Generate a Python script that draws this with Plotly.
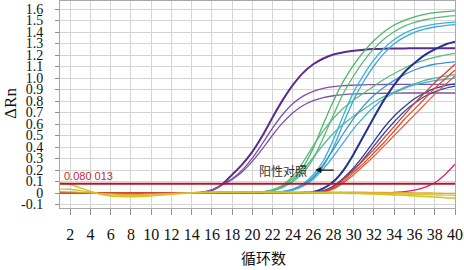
import plotly.graph_objects as go

cycles = list(range(1, 41))

purple_dark = [0] * 14 + [0.005, 0.025, 0.075, 0.16, 0.25, 0.36, 0.50, 0.66, 0.81, 0.94, 1.045, 1.12, 1.17, 1.205, 1.225, 1.238, 1.247, 1.252, 1.255, 1.257, 1.258, 1.259, 1.26, 1.26, 1.26, 1.26]
purple_hi = [0] * 14 + [0.005, 0.025, 0.072, 0.124, 0.20, 0.305, 0.433, 0.566, 0.685, 0.779, 0.843, 0.885, 0.91, 0.925, 0.934, 0.938, 0.941, 0.943, 0.944, 0.945, 0.945, 0.945, 0.945, 0.945, 0.945, 0.945]
purple_lo = [0] * 14 + [0.005, 0.025, 0.07, 0.119, 0.186, 0.278, 0.387, 0.505, 0.612, 0.699, 0.761, 0.803, 0.83, 0.846, 0.856, 0.862, 0.865, 0.867, 0.868, 0.869, 0.87, 0.87, 0.87, 0.87, 0.87, 0.87]
green_1 = [0] * 19 + [0.003, 0.01, 0.025, 0.06, 0.128, 0.226, 0.39, 0.60, 0.80, 0.975, 1.115, 1.23, 1.326, 1.403, 1.461, 1.502, 1.532, 1.553, 1.568, 1.578, 1.585]
green_2 = [0] * 20 + [0.008, 0.02, 0.05, 0.10, 0.176, 0.30, 0.48, 0.68, 0.87, 1.02, 1.15, 1.256, 1.34, 1.403, 1.451, 1.484, 1.507, 1.524, 1.535, 1.543]
cyan_1 = [0] * 21 + [0.005, 0.015, 0.035, 0.08, 0.159, 0.281, 0.465, 0.68, 0.88, 1.03, 1.158, 1.259, 1.335, 1.389, 1.427, 1.451, 1.468, 1.479, 1.487]
cyan_2 = [0] * 21 + [0.004, 0.012, 0.03, 0.07, 0.131, 0.235, 0.398, 0.61, 0.81, 0.972, 1.107, 1.215, 1.298, 1.356, 1.397, 1.425, 1.444, 1.456, 1.465]
green_mid = [0] * 19 + [0.003, 0.01, 0.03, 0.07, 0.15, 0.27, 0.41, 0.54, 0.65, 0.74, 0.81, 0.87, 0.93, 0.99, 1.04, 1.085, 1.125, 1.155, 1.18, 1.20, 1.215]
green_low = [0] * 19 + [0.002, 0.008, 0.022, 0.055, 0.11, 0.20, 0.31, 0.42, 0.52, 0.60, 0.67, 0.73, 0.79, 0.84, 0.88, 0.92, 0.95, 0.98, 1.00, 1.017, 1.03]
cyan_mid = [0] * 21 + [0.003, 0.01, 0.03, 0.07, 0.14, 0.25, 0.38, 0.52, 0.65, 0.76, 0.85, 0.92, 0.98, 1.03, 1.07, 1.10, 1.12, 1.132, 1.14]
cyan_low = [0] * 21 + [0.003, 0.01, 0.025, 0.06, 0.12, 0.21, 0.32, 0.44, 0.56, 0.66, 0.75, 0.82, 0.87, 0.91, 0.94, 0.96, 0.978, 0.99, 1.0]
navy_1 = [0] * 24 + [0.003, 0.01, 0.04, 0.10, 0.20, 0.34, 0.50, 0.66, 0.81, 0.94, 1.05, 1.13, 1.20, 1.25, 1.29, 1.315]
navy_2 = [0] * 25 + [0.006, 0.02, 0.06, 0.13, 0.22, 0.33, 0.45, 0.57, 0.67, 0.75, 0.82, 0.87, 0.91, 0.935, 0.95]
navy_3 = [0] * 25 + [0.005, 0.018, 0.055, 0.12, 0.20, 0.30, 0.41, 0.52, 0.62, 0.71, 0.78, 0.84, 0.88, 0.91, 0.93]
red_1 = [0] * 25 + [0.003, 0.012, 0.05, 0.12, 0.20, 0.29, 0.38, 0.48, 0.58, 0.68, 0.78, 0.87, 0.96, 1.04, 1.12]
red_2 = [0] * 26 + [0.01, 0.04, 0.10, 0.18, 0.26, 0.35, 0.44, 0.54, 0.64, 0.73, 0.82, 0.91, 0.99, 1.07]
red_3 = [0] * 26 + [0.008, 0.035, 0.09, 0.16, 0.24, 0.32, 0.41, 0.50, 0.59, 0.68, 0.77, 0.86, 0.94, 1.02]
pink = [0] * 33 + [0.005, 0.012, 0.025, 0.05, 0.09, 0.16, 0.25]
yellow_1 = [0.085, 0.075, 0.045, 0.015, -0.01, -0.025, -0.03, -0.032, -0.03, -0.025, -0.018, -0.01, -0.004, 0.0, 0.003, 0.005, 0.007, 0.008, 0.008, 0.007, 0.006, 0.005, 0.004, 0.003, 0.002, 0.001, 0.0, -0.001, -0.002, -0.004, -0.006, -0.009, -0.012, -0.016, -0.02, -0.025, -0.03, -0.035, -0.04, -0.045]
yellow_2 = [0.035, 0.033, 0.022, 0.008, -0.006, -0.016, -0.021, -0.023, -0.022, -0.018, -0.013, -0.007, -0.002, 0.002, 0.004, 0.005, 0.005, 0.005, 0.005, 0.005, 0.005, 0.005, 0.005, 0.005, 0.005, 0.005, 0.004, 0.004, 0.003, 0.0, -0.002, -0.004, -0.006, -0.008, -0.01, -0.012, -0.014, -0.016, -0.018, -0.02]
yellow_3 = [0.012, 0.01, 0.006, 0.002, -0.003, -0.008, -0.011, -0.012, -0.011, -0.009, -0.006, -0.003, 0.0, 0.004, 0.008, 0.01, 0.012, 0.013, 0.013, 0.012, 0.011, 0.01, 0.009, 0.008, 0.008, 0.008, 0.008, 0.008, 0.008, 0.008, 0.007, 0.006, 0.005, 0.004, 0.003, 0.002, 0.001, 0.0, -0.002, -0.004]

threshold = 0.080013
threshold_label = "0.080 013"
y_ticks = [-0.1, 0, 0.1, 0.2, 0.3, 0.4, 0.5, 0.6, 0.7, 0.8, 0.9, 1.0, 1.1, 1.2, 1.3, 1.4, 1.5, 1.6]
y_tick_text = ["-0.1", "0", "0.1", "0.2", "0.3", "0.4", "0.5", "0.6", "0.7", "0.8", "0.9", "1.0", "1.1", "1.2", "1.3", "1.4", "1.5", "1.6"]
x_ticks = list(range(2, 41, 2))

series = [
    (purple_dark, "#5A2D8C", 2.0),
    (purple_hi, "#7E52A8", 1.3),
    (purple_lo, "#7E52A8", 1.3),
    (green_1, "#4DB46C", 1.3),
    (green_2, "#5CBA78", 1.3),
    (green_mid, "#5DBB7E", 1.3),
    (green_low, "#52B89A", 1.3),
    (cyan_1, "#38B4D8", 1.3),
    (cyan_2, "#3FA8D4", 1.3),
    (cyan_mid, "#3C94D0", 1.3),
    (cyan_low, "#40AEDA", 1.3),
    (navy_2, "#2E3E9E", 1.3),
    (navy_3, "#3448A8", 1.3),
    (navy_1, "#24318C", 2.0),
    (pink, "#D8207A", 1.3),
    (red_3, "#E8603A", 1.3),
    (red_2, "#E24E2E", 1.3),
    (red_1, "#D8402A", 1.3),
    (yellow_3, "#E0A830", 1.3),
    (yellow_2, "#C8C83A", 1.3),
    (yellow_1, "#D8C21E", 1.5),
]

fig = go.Figure()
for vals, color, w in series:
    fig.add_trace(go.Scatter(x=cycles, y=vals, mode="lines",
                             line=dict(color=color, width=w, shape="spline", smoothing=0.8),
                             showlegend=False, hoverinfo="skip"))

fig.add_trace(go.Scatter(x=[cycles[0], cycles[-1]], y=[threshold, threshold], mode="lines",
                         line=dict(color="#B0182A", width=2), showlegend=False, hoverinfo="skip"))

serif = "Liberation Serif, Times New Roman, serif"
cjk = "Noto Sans CJK SC, sans-serif"

fig.update_layout(
    width=464, height=270,
    margin=dict(l=60, r=9, t=1, b=62),
    paper_bgcolor="white", plot_bgcolor="white",
    xaxis=dict(range=[1, 40], tickmode="array", tickvals=x_ticks,
               ticks="outside", ticklen=6, tickcolor="#909090",
               showgrid=True, gridcolor="#D4D4D4", gridwidth=1,
               showline=True, linecolor="#A8A8A8", mirror=True, zeroline=False,
               tickfont=dict(family=serif, size=16, color="#111"),
               ticklabelstandoff=6),
    yaxis=dict(range=[-0.13, 1.67], tickmode="array", tickvals=y_ticks, ticktext=y_tick_text,
               ticks="outside", ticklen=4, tickcolor="#909090",
               showgrid=True, gridcolor="#D4D4D4", gridwidth=1,
               showline=True, linecolor="#A8A8A8", mirror=True, zeroline=False,
               tickfont=dict(family=serif, size=14, color="#111"),
               ticklabelstandoff=9),
    annotations=[
        dict(x=1, y=threshold, xref="x", yref="y", text=threshold_label, showarrow=False,
             xanchor="left", yanchor="bottom", xshift=2, yshift=0,
             font=dict(family="Liberation Sans, Arial, sans-serif", size=11, color="#C8283A")),
        dict(x=23.06, y=0.2, xref="x", yref="y", text="阳性对照", showarrow=False,
             xanchor="center", yanchor="middle",
             font=dict(family=cjk, size=12, color="#333")),
        dict(x=26.2, y=0.2, xref="x", yref="y", text="", showarrow=True,
             ax=20, ay=0, arrowhead=2, arrowsize=1, arrowwidth=1.2, arrowcolor="#111"),
        dict(x=-0.127, y=0.507, xref="paper", yref="paper", text="ΔRn", showarrow=False,
             textangle=-90, xanchor="center", yanchor="middle",
             font=dict(family=serif, size=17, color="#111")),
        dict(x=0.514, y=-0.24, xref="paper", yref="paper", text="循环数", showarrow=False,
             xanchor="center", yanchor="middle",
             font=dict(family=cjk, size=15, color="#111")),
    ],
)

fig.write_html("out.html")
